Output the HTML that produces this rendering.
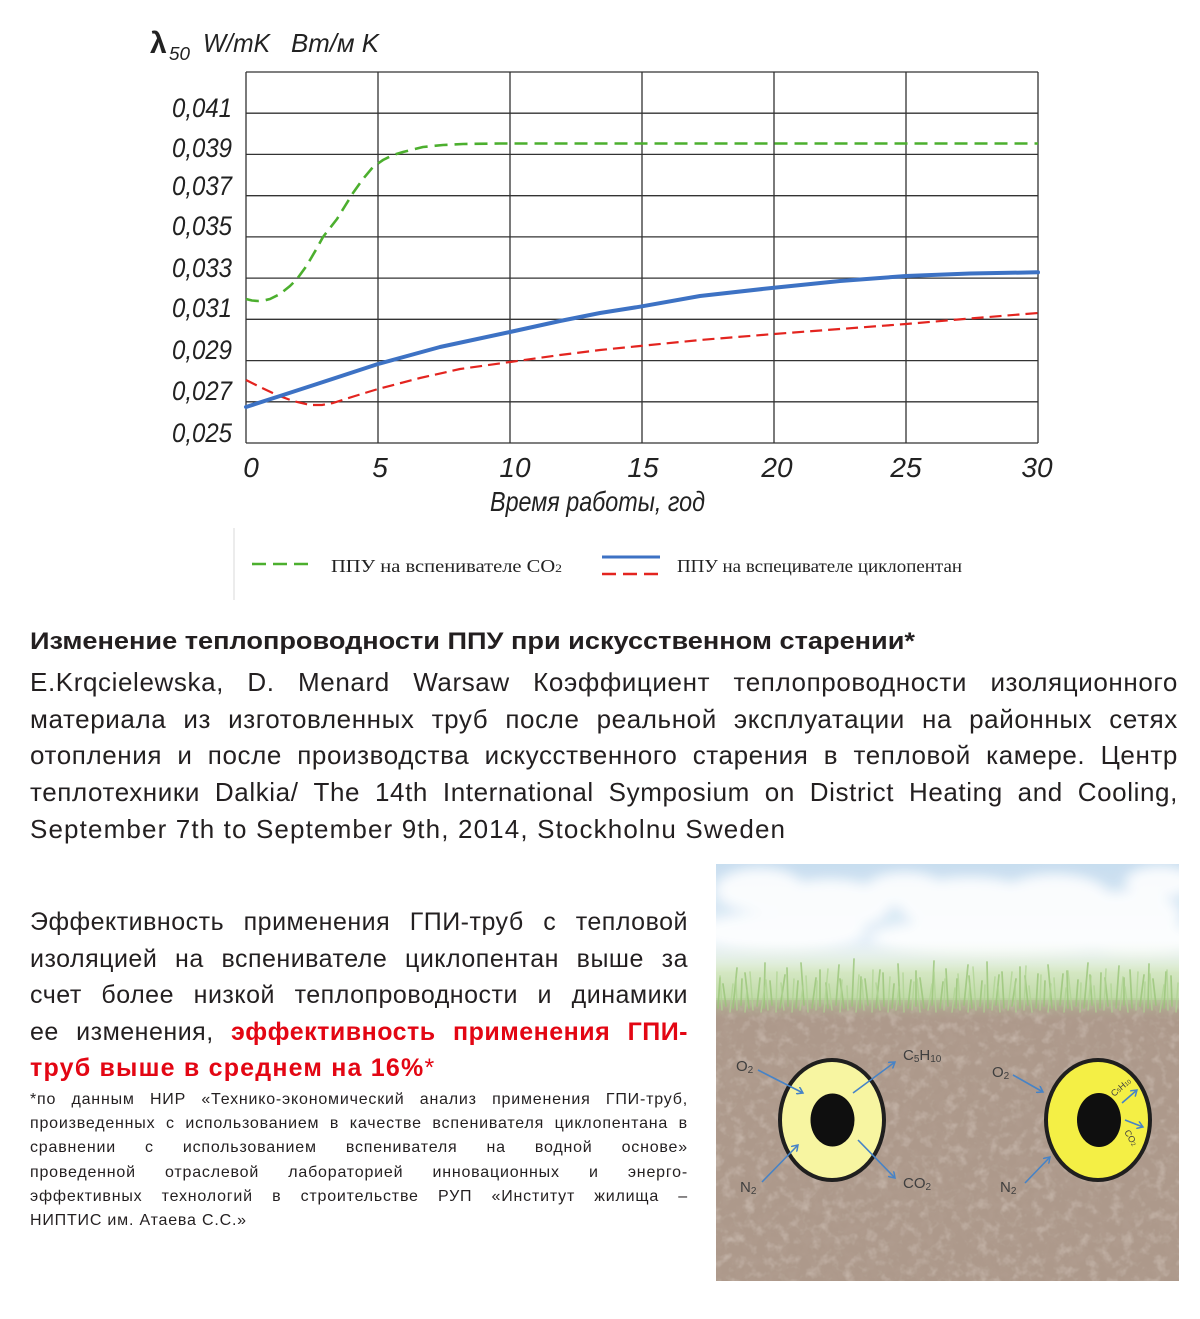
<!DOCTYPE html>
<html>
<head>
<meta charset="utf-8">
<style>
  html,body{margin:0;padding:0;background:#fff;}
  body{width:1200px;height:1319px;position:relative;overflow:hidden;font-family:"Liberation Sans","Noto Sans CJK SC",sans-serif;color:#231f20;}
  svg.page{position:absolute;left:0;top:0;}
  .blk{position:absolute;}
  .j{display:flex;justify-content:space-between;white-space:nowrap;}
  .l{white-space:nowrap;}
  .p1{left:30px;top:664px;width:1148px;font-size:26px;line-height:36.5px;letter-spacing:0.6px;}
  .p2{left:30px;top:904px;width:658px;font-size:25px;line-height:36.6px;letter-spacing:0.5px;}
  .p3{left:30px;top:1088px;width:658px;font-size:16px;line-height:24.2px;letter-spacing:0.8px;}
  .red{color:#e30613;}
  .rb{color:#e30613;font-weight:bold;}
</style>
</head>
<body>
<svg class="page" width="1200" height="1319" viewBox="0 0 1200 1319" xmlns="http://www.w3.org/2000/svg">
  <defs>
    <linearGradient id="sky" x1="0" y1="0" x2="0" y2="1">
      <stop offset="0" stop-color="#c4dbef"/>
      <stop offset="0.45" stop-color="#dcebf6"/>
      <stop offset="1" stop-color="#f7fafc"/>
    </linearGradient>
    <linearGradient id="grass" x1="0" y1="0" x2="0" y2="1">
      <stop offset="0" stop-color="#f5f9f2" stop-opacity="0"/>
      <stop offset="0.5" stop-color="#d2e6bf"/>
      <stop offset="1" stop-color="#b8d59c"/>
    </linearGradient>
    <linearGradient id="trans" x1="0" y1="0" x2="0" y2="1">
      <stop offset="0" stop-color="#b5cf9a"/>
      <stop offset="1" stop-color="#a89384" stop-opacity="0"/>
    </linearGradient>
    <filter id="blur6" x="-50%" y="-50%" width="200%" height="200%"><feGaussianBlur stdDeviation="6"/></filter>
    <filter id="soil" x="0" y="0" width="100%" height="100%">
      <feTurbulence type="fractalNoise" baseFrequency="0.09" numOctaves="3" seed="4" result="n"/>
      <feColorMatrix in="n" type="matrix" values="0 0 0 0 0.44  0 0 0 0 0.33  0 0 0 0 0.27  2.2 0 0 0 -0.9" result="dark"/>
      <feColorMatrix in="n" type="matrix" values="0 0 0 0 0.80  0 0 0 0 0.72  0 0 0 0 0.66  0 -2.0 0 0 1.0" result="light"/>
      <feMerge><feMergeNode in="dark"/><feMergeNode in="light"/></feMerge>
    </filter>
    <clipPath id="imgclip"><rect x="716" y="864" width="463" height="417"/></clipPath>
    <marker id="ah" markerWidth="8" markerHeight="8" refX="6" refY="4" orient="auto" markerUnits="userSpaceOnUse">
      <path d="M0,0 L6,4 L0,8" fill="none" stroke="#3b7cc4" stroke-width="1.5"/>
    </marker>
  </defs>

  <!-- ===== CHART ===== -->
  <g stroke="#333" stroke-width="1.3" fill="none">
    <line x1="246" y1="72" x2="246" y2="443"/>
    <line x1="378" y1="72" x2="378" y2="443"/>
    <line x1="510" y1="72" x2="510" y2="443"/>
    <line x1="642" y1="72" x2="642" y2="443"/>
    <line x1="774" y1="72" x2="774" y2="443"/>
    <line x1="906" y1="72" x2="906" y2="443"/>
    <line x1="1038" y1="72" x2="1038" y2="443"/>
    <line x1="246" y1="72" x2="1038" y2="72"/>
    <line x1="246" y1="113.2" x2="1038" y2="113.2"/>
    <line x1="246" y1="154.4" x2="1038" y2="154.4"/>
    <line x1="246" y1="195.7" x2="1038" y2="195.7"/>
    <line x1="246" y1="236.9" x2="1038" y2="236.9"/>
    <line x1="246" y1="278.1" x2="1038" y2="278.1"/>
    <line x1="246" y1="319.3" x2="1038" y2="319.3"/>
    <line x1="246" y1="360.6" x2="1038" y2="360.6"/>
    <line x1="246" y1="401.8" x2="1038" y2="401.8"/>
    <line x1="246" y1="443" x2="1038" y2="443"/>
  </g>

  <!-- series -->
  <polyline fill="none" stroke="#4caf2e" stroke-width="2.6" stroke-dasharray="13 7" stroke-linejoin="round"
    points="246,299 252,300.5 258,301 264,300.5 270,299 280,294 290,286 297,279 305,268 310,260 317,248 323,237 330,228 337,219 345,206 353,193 363,179 373,167 383,160 393,155 403,152 423,147 443,145 463,144 500,143.5 1038,143.5"/>
  <polyline fill="none" stroke="#e3241f" stroke-width="2.2" stroke-dasharray="12 6" stroke-linejoin="round"
    points="246,380 260,387 277,395 293,401 310,405 322,405 333,403 355,396 378,389 420,378 460,369 510,362 560,355 600,350 640,346 700,340 774,334 840,329 906,324 970,318.5 1038,313"/>
  <polyline fill="none" stroke="#3d72c4" stroke-width="4" stroke-linejoin="round" stroke-linecap="round"
    points="246,407 280,396 320,383 378,364 440,347 510,332 560,321 600,313 640,306.7 700,296 774,287.7 840,281 906,276 970,273.5 1038,272.3"/>

  <!-- axis title -->
  <g fill="#222" font-family="Liberation Sans, sans-serif">
    <text x="150" y="53" font-size="30" font-weight="bold">λ</text>
    <text x="169" y="60" font-size="18" font-style="italic" textLength="21" lengthAdjust="spacingAndGlyphs">50</text>
    <text x="203" y="52" font-size="26" font-style="italic" textLength="67" lengthAdjust="spacingAndGlyphs">W/mK</text>
    <text x="291" y="52" font-size="26" font-style="italic" textLength="88" lengthAdjust="spacingAndGlyphs">Bm/м K</text>
  </g>

  <!-- y labels -->
  <g fill="#222" font-family="Liberation Sans, sans-serif" font-size="26.5" font-style="italic">
    <text x="172" y="117" textLength="60" lengthAdjust="spacingAndGlyphs">0,041</text>
    <text x="172" y="157" textLength="60" lengthAdjust="spacingAndGlyphs">0,039</text>
    <text x="172" y="195" textLength="60" lengthAdjust="spacingAndGlyphs">0,037</text>
    <text x="172" y="235" textLength="60" lengthAdjust="spacingAndGlyphs">0,035</text>
    <text x="172" y="277" textLength="60" lengthAdjust="spacingAndGlyphs">0,033</text>
    <text x="172" y="317" textLength="60" lengthAdjust="spacingAndGlyphs">0,031</text>
    <text x="172" y="359" textLength="60" lengthAdjust="spacingAndGlyphs">0,029</text>
    <text x="172" y="400" textLength="60" lengthAdjust="spacingAndGlyphs">0,027</text>
    <text x="172" y="442" textLength="60" lengthAdjust="spacingAndGlyphs">0,025</text>
  </g>

  <!-- x labels -->
  <g fill="#222" font-family="Liberation Sans, sans-serif" font-size="28" font-style="italic" text-anchor="middle">
    <text x="251" y="477">0</text>
    <text x="380" y="477">5</text>
    <text x="515" y="477">10</text>
    <text x="643" y="477">15</text>
    <text x="777" y="477">20</text>
    <text x="906" y="477">25</text>
    <text x="1037" y="477">30</text>
  </g>
  <text x="490" y="511" fill="#222" font-family="Liberation Sans, sans-serif" font-size="28" font-style="italic" textLength="215" lengthAdjust="spacingAndGlyphs">Время работы, год</text>

  <!-- legend -->
  <line x1="234" y1="528" x2="234" y2="600" stroke="#e6e6e6" stroke-width="1.5"/>
  <line x1="252" y1="564" x2="308" y2="564" stroke="#4caf2e" stroke-width="2.6" stroke-dasharray="14 7"/>
  <text x="331" y="572" font-family="Liberation Serif, serif" font-size="18" fill="#222" textLength="231" lengthAdjust="spacingAndGlyphs">ППУ на вспенивателе СО<tspan font-size="12">2</tspan></text>
  <line x1="602" y1="557" x2="660" y2="557" stroke="#3d72c4" stroke-width="3"/>
  <line x1="602" y1="574" x2="660" y2="574" stroke="#e3241f" stroke-width="2.6" stroke-dasharray="14 7"/>
  <text x="677" y="572" font-family="Liberation Serif, serif" font-size="18" fill="#222" textLength="285" lengthAdjust="spacingAndGlyphs">ППУ на вспецивателе циклопентан</text>

  <!-- title -->
  <text x="30" y="649" font-family="Liberation Sans, sans-serif" font-size="24" font-weight="bold" fill="#231f20" textLength="885" lengthAdjust="spacingAndGlyphs">Изменение теплопроводности ППУ при искусственном старении*</text>

  <!-- last line of first paragraph -->
  <text x="30" y="838" font-family="Liberation Sans, sans-serif" font-size="26" fill="#231f20" textLength="755" lengthAdjust="spacing">September 7th to September 9th, 2014, Stockholnu Sweden</text>

  <!-- ===== IMAGE ===== -->
  <g clip-path="url(#imgclip)">
    <rect x="716" y="864" width="463" height="150" fill="url(#sky)"/>
    <g fill="#ffffff" opacity="0.9" filter="url(#blur6)">
      <ellipse cx="760" cy="890" rx="45" ry="22"/>
      <ellipse cx="830" cy="905" rx="60" ry="26"/>
      <ellipse cx="905" cy="890" rx="40" ry="18"/>
      <ellipse cx="970" cy="905" rx="70" ry="28"/>
      <ellipse cx="1055" cy="898" rx="55" ry="24"/>
      <ellipse cx="1125" cy="915" rx="55" ry="24"/>
      <ellipse cx="1160" cy="882" rx="35" ry="16"/>
      <ellipse cx="780" cy="932" rx="85" ry="20"/>
      <ellipse cx="1000" cy="938" rx="130" ry="20"/>
      <ellipse cx="1140" cy="940" rx="60" ry="18"/>
    </g>
    <rect x="716" y="940" width="463" height="65" fill="url(#grass)"/>
    <rect x="716" y="1000" width="463" height="281" fill="#a89384"/>
    <rect x="716" y="1000" width="463" height="281" filter="url(#soil)" opacity="0.45"/>
    <rect x="716" y="998" width="463" height="24" fill="url(#trans)" opacity="0.85"/>
    <path fill="none" stroke="#93c271" stroke-width="1.7" opacity="0.8" stroke-linecap="round"
      d="M718 1008 l2 -30 M726 1006 l-3 -22 M733 1008 l4 -40 M741 1005 l1 -26 M749 1008 l-4 -35 M757 1006 l3 -28 M764 1008 l1 -45 M772 1005 l-2 -24 M780 1008 l5 -33 M788 1006 l-1 -38 M796 1008 l2 -27 M804 1005 l-3 -42 M812 1008 l4 -30 M820 1006 l0 -36 M828 1008 l-2 -25 M836 1005 l3 -40 M844 1008 l-4 -29 M852 1006 l2 -47 M860 1008 l1 -31 M868 1005 l-3 -26 M876 1008 l4 -38 M884 1006 l-1 -33 M892 1008 l2 -24 M900 1005 l-2 -41 M908 1008 l3 -28 M916 1006 l0 -35 M924 1008 l-4 -30 M932 1005 l2 -44 M940 1008 l3 -26 M948 1006 l-2 -37 M956 1008 l1 -29 M964 1005 l4 -40 M972 1008 l-3 -32 M980 1006 l2 -25 M988 1008 l-1 -46 M996 1005 l3 -30 M1004 1008 l-2 -36 M1012 1006 l4 -27 M1020 1008 l0 -41 M1028 1005 l-3 -29 M1036 1008 l2 -34 M1044 1006 l1 -25 M1052 1008 l-4 -43 M1060 1005 l3 -31 M1068 1008 l-1 -37 M1076 1006 l2 -26 M1084 1008 l4 -45 M1092 1005 l-2 -30 M1100 1008 l1 -35 M1108 1006 l-3 -28 M1116 1008 l3 -42 M1124 1005 l0 -27 M1132 1008 l-2 -38 M1140 1006 l4 -31 M1148 1008 l1 -44 M1156 1005 l-3 -26 M1164 1008 l2 -36 M1172 1006 l-1 -30"/>
    <path fill="none" stroke="#aad18b" stroke-width="1.5" opacity="0.75" stroke-linecap="round"
      d="M722 1010 l-2 -34 M730 1012 l3 -28 M737 1010 l-1 -31 M745 1012 l2 -22 M753 1010 l-3 -38 M761 1012 l4 -26 M768 1010 l-2 -30 M776 1012 l1 -40 M784 1010 l-3 -27 M792 1012 l2 -33 M800 1010 l3 -24 M808 1012 l-2 -36 M816 1010 l1 -29 M824 1012 l4 -43 M832 1010 l-3 -26 M840 1012 l2 -32 M848 1010 l-1 -24 M856 1012 l3 -37 M864 1010 l-2 -30 M872 1012 l1 -42 M880 1010 l-4 -27 M888 1012 l2 -35 M896 1010 l3 -23 M904 1012 l-1 -39 M912 1010 l2 -28 M920 1012 l-3 -33 M928 1010 l4 -26 M936 1012 l-2 -40 M944 1010 l1 -31 M952 1012 l3 -24 M960 1010 l-2 -36 M968 1012 l2 -29 M976 1010 l-3 -43 M984 1012 l1 -27 M992 1010 l3 -33 M1000 1012 l-2 -25 M1008 1010 l4 -38 M1016 1012 l-1 -30 M1024 1010 l2 -44 M1032 1012 l-3 -26 M1040 1010 l1 -35 M1048 1012 l3 -28 M1056 1010 l-2 -32 M1064 1012 l2 -24 M1072 1010 l-4 -39 M1080 1012 l1 -29 M1088 1010 l3 -34 M1096 1012 l-2 -26 M1104 1010 l2 -41 M1112 1012 l-1 -28 M1120 1010 l3 -33 M1128 1012 l-3 -25 M1136 1010 l2 -38 M1144 1012 l1 -30 M1152 1010 l-2 -36 M1160 1012 l4 -27 M1168 1010 l-1 -40 M1176 1012 l2 -29"/>

    <!-- left pipe -->
    <ellipse cx="832" cy="1120" rx="52" ry="60" fill="#f7f59c" stroke="#111" stroke-width="4"/>
    <ellipse cx="832.5" cy="1120" rx="22" ry="26.5" fill="#000"/>
    <!-- right pipe -->
    <ellipse cx="1098" cy="1120" rx="52" ry="60" fill="#f4ef3a" stroke="#111" stroke-width="4"/>
    <ellipse cx="1099" cy="1120" rx="22" ry="27" fill="#000"/>

    <g stroke="#3b7cc4" stroke-width="1.6" fill="none" marker-end="url(#ah)">
      <line x1="758" y1="1070" x2="803" y2="1093"/>
      <line x1="762" y1="1182" x2="798" y2="1145"/>
      <line x1="853" y1="1093" x2="895" y2="1062"/>
      <line x1="858" y1="1140" x2="895" y2="1178"/>
      <line x1="1013" y1="1075" x2="1043" y2="1092"/>
      <line x1="1025" y1="1183" x2="1050" y2="1157"/>
      <line x1="1122" y1="1103" x2="1137" y2="1090"/>
      <line x1="1125" y1="1120" x2="1143" y2="1127"/>
    </g>

    <g fill="#333" font-family="Liberation Sans, sans-serif" font-size="15">
      <text x="736" y="1071">O<tspan font-size="10" dy="2">2</tspan></text>
      <text x="740" y="1192">N<tspan font-size="10" dy="2">2</tspan></text>
      <text x="903" y="1060">C<tspan font-size="10" dy="2">5</tspan><tspan dy="-2">H</tspan><tspan font-size="10" dy="2">10</tspan></text>
      <text x="903" y="1188">CO<tspan font-size="10" dy="2">2</tspan></text>
      <text x="992" y="1077">O<tspan font-size="10" dy="2">2</tspan></text>
      <text x="1000" y="1192">N<tspan font-size="10" dy="2">2</tspan></text>
      <text x="0" y="0" font-size="9" transform="translate(1114,1097) rotate(-40)">C<tspan font-size="6">5</tspan>H<tspan font-size="6">10</tspan></text>
      <text x="0" y="0" font-size="9" transform="translate(1124,1132) rotate(60)">CO<tspan font-size="6">2</tspan></text>
    </g>
    <rect x="716" y="864" width="463" height="417" fill="#ffffff" opacity="0.06"/>
  </g>
</svg>

<!-- first paragraph (justified lines) -->
<div class="blk p1">
  <div class="j"><span>E.Krqcielewska,</span><span>D.</span><span>Menard</span><span>Warsaw</span><span>Коэффициент</span><span>теплопроводности</span><span>изоляционного</span></div>
  <div class="j"><span>материала</span><span>из</span><span>изготовленных</span><span>труб</span><span>после</span><span>реальной</span><span>эксплуатации</span><span>на</span><span>районных</span><span>сетях</span></div>
  <div class="j"><span>отопления</span><span>и</span><span>после</span><span>производства</span><span>искусственного</span><span>старения</span><span>в</span><span>тепловой</span><span>камере.</span><span>Центр</span></div>
  <div class="j"><span>теплотехники</span><span>Dalkia/</span><span>The</span><span>14th</span><span>International</span><span>Symposium</span><span>on</span><span>District</span><span>Heating</span><span>and</span><span>Cooling,</span></div>
</div>

<!-- second paragraph -->
<div class="blk p2">
  <div class="j"><span>Эффективность</span><span>применения</span><span>ГПИ-труб</span><span>с</span><span>тепловой</span></div>
  <div class="j"><span>изоляцией</span><span>на</span><span>вспенивателе</span><span>циклопентан</span><span>выше</span><span>за</span></div>
  <div class="j"><span>счет</span><span>более</span><span>низкой</span><span>теплопроводности</span><span>и</span><span>динамики</span></div>
  <div class="j"><span>ее</span><span>изменения,</span><span class="rb">эффективность</span><span class="rb">применения</span><span class="rb">ГПИ-</span></div>
  <div class="l"><span class="rb" style="letter-spacing:1.2px">труб выше в среднем на 16%</span><span class="red">*</span></div>
</div>

<!-- footnote -->
<div class="blk p3">
  <div class="j"><span>*по</span><span>данным</span><span>НИР</span><span>«Технико-экономический</span><span>анализ</span><span>применения</span><span>ГПИ-труб,</span></div>
  <div class="j"><span>произведенных</span><span>с</span><span>использованием</span><span>в</span><span>качестве</span><span>вспенивателя</span><span>циклопентана</span><span>в</span></div>
  <div class="j"><span>сравнении</span><span>с</span><span>использованием</span><span>вспенивателя</span><span>на</span><span>водной</span><span>основе»</span></div>
  <div class="j"><span>проведенной</span><span>отраслевой</span><span>лабораторией</span><span>инновационных</span><span>и</span><span>энерго-</span></div>
  <div class="j"><span>эффективных</span><span>технологий</span><span>в</span><span>строительстве</span><span>РУП</span><span>«Институт</span><span>жилища</span><span>–</span></div>
  <div class="l">НИПТИС им. Атаева С.С.»</div>
</div>
</body>
</html>
